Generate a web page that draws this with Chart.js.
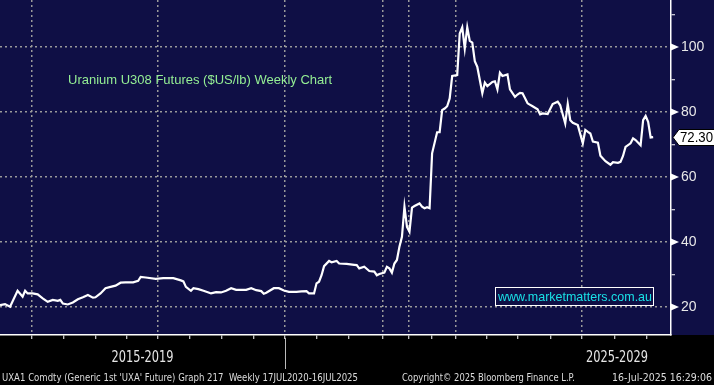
<!DOCTYPE html>
<html>
<head>
<meta charset="utf-8">
<script src="https://cdn.jsdelivr.net/npm/chart.js@4.4.1/dist/chart.umd.min.js"></script>
<style>
  html, body { margin: 0; padding: 0; background: #000; }
  canvas { display: block; }
</style>
</head>
<body>
<canvas id="uxChart" width="714" height="385"></canvas>
<script>
// weeks since 17 Jul 2020
const weeks = [0, 2, 4, 7, 9, 10, 11, 13, 15, 17, 19, 21, 23, 24, 25, 27, 29, 31, 33, 35, 37, 38, 40, 42, 44, 46, 48, 50, 53, 55, 56, 58, 62, 65, 69, 72, 73, 74, 76, 77, 79, 81, 83, 84, 86, 88, 90, 92, 94, 96, 98, 100, 102, 104, 105, 106, 109, 111, 113, 115, 118, 120, 122, 123, 125, 126, 127, 128, 129, 131, 132, 134, 135, 138, 141, 142, 143, 145, 147, 149, 150, 151, 153, 154, 155, 156, 157, 158, 159, 160, 161, 162, 163, 164, 165, 167, 168, 169, 170, 171, 172, 174, 175, 176, 177, 178, 179, 180, 182, 183, 184, 185, 186, 187, 188, 189, 190, 192, 193, 194, 196, 197, 198, 199, 200, 202, 203, 205, 206, 207, 208, 210, 212, 214, 215, 216, 218, 220, 222, 223, 225, 226, 227, 228, 230, 232, 233, 234, 235, 236, 238, 239, 241, 243, 244, 246, 247, 248, 249, 251, 252, 253, 255, 256, 257, 258, 259, 260];
const prices = [20.6, 20.9, 20.1, 25.0, 23.2, 25.0, 24.2, 24.2, 23.9, 22.7, 21.6, 22.2, 21.9, 22.2, 21.1, 20.8, 21.4, 22.4, 23.0, 23.7, 22.9, 23.0, 24.2, 25.8, 26.2, 26.6, 27.5, 27.6, 27.6, 28.1, 29.3, 29.1, 28.7, 28.9, 28.9, 28.2, 27.9, 26.2, 25.0, 25.8, 25.5, 25.0, 24.5, 24.2, 24.6, 24.5, 25.0, 25.8, 25.3, 25.3, 25.3, 25.8, 25.2, 24.9, 24.1, 24.4, 25.8, 25.8, 25.1, 24.7, 24.7, 24.8, 24.9, 24.2, 24.2, 27.3, 27.8, 29.8, 32.6, 34.2, 33.8, 34.2, 33.4, 33.3, 33.0, 32.9, 31.9, 32.4, 31.1, 30.9, 29.8, 30.2, 30.6, 32.4, 31.9, 30.6, 33.4, 34.5, 38.6, 41.6, 50.9, 44.7, 43.2, 50.6, 51.1, 51.9, 50.9, 50.4, 50.7, 50.4, 67.3, 73.8, 73.8, 80.6, 81.1, 81.8, 84.2, 91.1, 91.4, 104.2, 106.1, 99.6, 106.1, 101.9, 101.4, 95.7, 93.9, 85.8, 89.1, 88.0, 89.3, 89.5, 87.0, 92.1, 91.1, 91.6, 87.0, 84.7, 85.4, 85.9, 85.8, 82.7, 81.8, 80.9, 79.3, 79.6, 79.4, 82.5, 83.2, 82.1, 76.5, 82.5, 77.5, 76.7, 76.0, 70.4, 74.5, 73.9, 73.4, 70.9, 70.6, 66.6, 64.9, 63.8, 64.6, 64.4, 64.7, 66.5, 69.3, 70.4, 71.9, 71.4, 69.8, 77.5, 78.8, 77.0, 72.2, 72.3];
const lastPrice = "72.30";

// axis ticks (weeks) and labels
const xTickWeeks = [12.7, 25.5, 38.2, 50.6, 62.9, 75.6, 88.4, 101.1, 113.5, 126.2, 138.9, 152.5, 162.8, 172, 181.5, 193.9, 206.2, 219.3, 231.7, 244.8, 257.6];
const xGridWeeks = [12.7, 62.9, 113.5, 152.5, 162.8, 181.5, 231.7];
const yTickValues = [20, 30, 40, 50, 60, 70, 80, 90, 100, 110];
const yLabelValues = [20, 40, 60, 80, 100];
const periodLabels = [
  { text: "2015-2019", at: 56.7 },
  { text: "2025-2029", at: 245.6 }
];
const periodDivider = 113.5;
const titleText = "Uranium U308 Futures ($US/lb) Weekly Chart";
const siteText = "www.marketmatters.com.au";
const footerLeft = "UXA1 Comdty (Generic 1st 'UXA' Future) Graph 217  Weekly 17JUL2020-16JUL2025";
const footerMid = "Copyright\u00a9 2025 Bloomberg Finance L.P.";
const footerRight = "16-Jul-2025 16:29:06";

const NAVY = "#0f0f45";
const GRID = "#9a9a9a";

const decor = {
  id: "decor",
  beforeDraw(chart) {
    const { ctx, chartArea } = chart;
    ctx.save();
    ctx.fillStyle = "#000";
    ctx.fillRect(0, 0, chart.width, chart.height);
    ctx.fillStyle = NAVY;
    ctx.fillRect(0, 0, chart.width, chartArea.bottom);
    ctx.restore();
  },
  afterDraw(chart) {
    const { ctx, chartArea } = chart;
    const x = chart.scales.x, y = chart.scales.y;
    ctx.save();

    // pointers on the major y ticks
    ctx.fillStyle = "#ffffff";
    yLabelValues.forEach(v => {
      const py = y.getPixelForValue(v);
      ctx.beginPath();
      ctx.moveTo(chartArea.right, py - 3.5);
      ctx.lineTo(chartArea.right + 8, py);
      ctx.lineTo(chartArea.right, py + 3.5);
      ctx.closePath();
      ctx.fill();
    });

    // last price tag
    const ly = Math.round(y.getPixelForValue(parseFloat(lastPrice))) + 0.5;
    const lx = chartArea.right + 2;
    ctx.beginPath();
    ctx.moveTo(lx, ly);
    ctx.lineTo(lx + 6, ly - 8);
    ctx.lineTo(chart.width + 2, ly - 8);
    ctx.lineTo(chart.width + 2, ly + 8);
    ctx.lineTo(lx + 6, ly + 8);
    ctx.closePath();
    ctx.fillStyle = "#ffffff";
    ctx.fill();
    ctx.strokeStyle = "#000";
    ctx.lineWidth = 1;
    ctx.stroke();
    ctx.fillStyle = "#000";
    ctx.font = "14px 'Liberation Sans', Arial, sans-serif";
    ctx.textAlign = "left";
    ctx.textBaseline = "middle";
    ctx.fillText(lastPrice, lx + 7, ly + 1, 33);

    // title
    ctx.fillStyle = "#94ee94";
    ctx.font = "13px 'Liberation Sans', Arial, sans-serif";
    ctx.fillText(titleText, 68, 80);

    // site box
    ctx.font = "13px 'Liberation Sans', Arial, sans-serif";
    ctx.fillStyle = NAVY;
    ctx.fillRect(496, 288, 157, 17);
    ctx.strokeStyle = "#ffffff";
    ctx.strokeRect(495.5, 287.5, 158, 18);
    ctx.fillStyle = "#19e0e6";
    ctx.fillText(siteText, 498, 297, 154);

    // period labels below axis
    ctx.fillStyle = "#e6e6e6";
    ctx.font = "15px 'DejaVu Sans', sans-serif";
    ctx.textAlign = "center";
    periodLabels.forEach(p => ctx.fillText(p.text, x.getPixelForValue(p.at), 358, 62));
    const dx = Math.round(x.getPixelForValue(periodDivider)) + 0.5;
    ctx.strokeStyle = "#bbbbbb";
    ctx.beginPath();
    ctx.moveTo(dx, chartArea.bottom + 3);
    ctx.lineTo(dx, 369);
    ctx.stroke();

    // footer, squeezed like the terminal's narrow font
    ctx.font = "11px 'DejaVu Sans', sans-serif";
    ctx.fillStyle = "#dddddd";
    ctx.textAlign = "left";
    ctx.fillText(footerLeft, 2, 378, 356);
    ctx.fillText(footerMid, 402, 378, 173);
    ctx.textAlign = "right";
    ctx.fillText(footerRight, 712, 378, 100);
    ctx.restore();
  }
};

new Chart(document.getElementById("uxChart"), {
  type: "line",
  data: {
    datasets: [
      {
        label: "UXA1",
        data: weeks.map((w, i) => ({ x: w, y: prices[i] })),
        borderColor: "#ffffff",
        borderWidth: 2.2,
        pointRadius: 0,
        tension: 0,
        fill: false,
      },
    ],
  },
  options: {
    responsive: false,
    animation: false,
    layout: { padding: 0 },
    plugins: {
      legend: { display: false },
      tooltip: { enabled: false },
    },
    scales: {
      x: {
        type: "linear",
        min: 0,
        max: 267.1,
        afterBuildTicks: s => { s.ticks = xTickWeeks.map(v => ({ value: v })); },
        afterFit: s => { s.height = 50; s.paddingLeft = 0; s.paddingRight = 0; },
        ticks: { display: false },
        grid: {
          color: c => (xGridWeeks.includes(c.tick && c.tick.value) ? GRID : "rgba(0,0,0,0)"),
          lineWidth: 1.5,
          drawTicks: true,
          tickLength: 4,
          tickColor: "#ffffff",
          tickWidth: 1,
        },
        border: { display: true, color: "#ffffff", width: 1.5, dash: [2, 3] },
      },
      y: {
        position: "right",
        min: 11.4,
        max: 114.5,
        afterBuildTicks: s => { s.ticks = yTickValues.map(v => ({ value: v })); },
        afterFit: s => { s.width = 43; s.paddingTop = 0; s.paddingBottom = 0; },
        ticks: {
          color: "#e8e8e8",
          padding: 6,
          font: { family: "'Liberation Sans', Arial, sans-serif", size: 14 },
          callback: v => (yLabelValues.includes(v) ? String(v) : ""),
        },
        grid: {
          color: c => (yLabelValues.includes(c.tick && c.tick.value) ? GRID : "rgba(0,0,0,0)"),
          lineWidth: 1.5,
          drawTicks: true,
          tickLength: 4,
          tickColor: "#ffffff",
          tickWidth: 1,
        },
        border: { display: true, color: "#ffffff", width: 1.5, dash: [2, 3] },
      },
    },
  },
  plugins: [decor],
});
</script>
</body>
</html>
